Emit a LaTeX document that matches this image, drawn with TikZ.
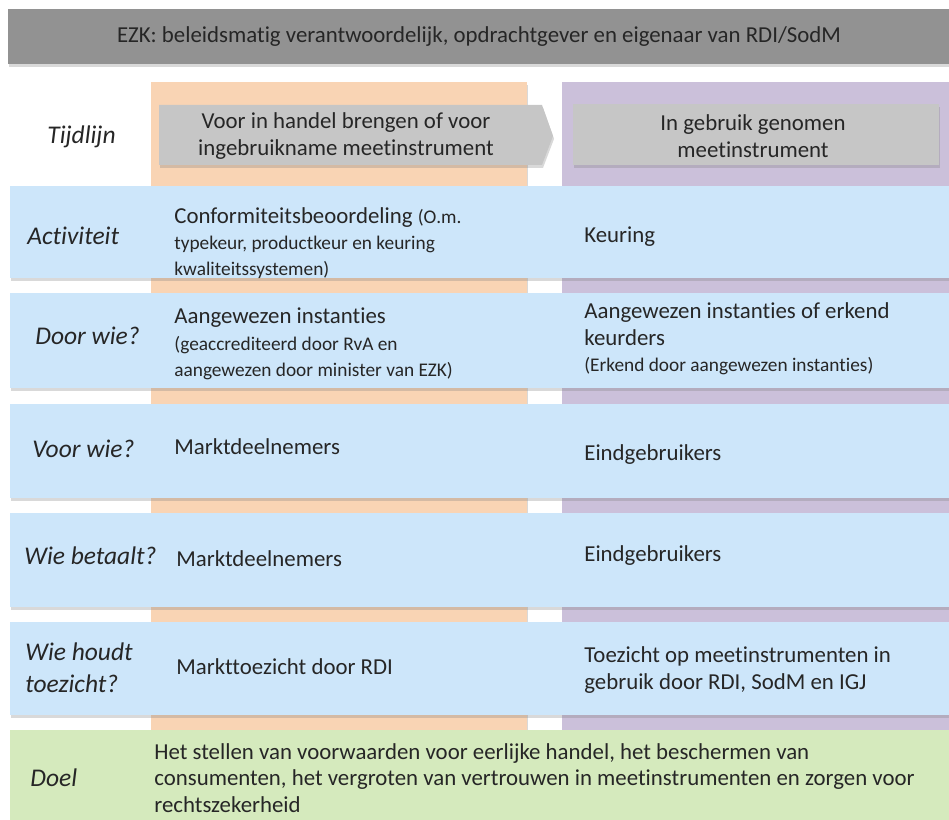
\documentclass[tikz,border=0pt]{standalone}
\usepackage{fontspec}
\setmainfont{Carlito}[Ligatures=NoCommon]
\usetikzlibrary{shadows}
\definecolor{ezkgray}{HTML}{929292}
\definecolor{peach}{HTML}{F9D4B4}
\definecolor{lilac}{HTML}{CBC0DA}
\definecolor{boxgray}{HTML}{C6C6C6}
\definecolor{rowblue}{HTML}{CDE6FA}
\definecolor{rowgreen}{HTML}{D5EABD}
\definecolor{txtgray}{HTML}{262626}
\newcommand{\smalltxt}{\fontsize{11}{15}\selectfont}
\begin{document}
\begin{tikzpicture}[x=0.02cm, y=-0.02cm,
    every node/.style={text=txtgray, inner sep=0pt},
    shade/.style={drop shadow={shadow xshift=0.6pt, shadow yshift=-1.6pt, opacity=0.3}},
    lbl/.style={anchor=west, font=\fontsize{14.5}{18}\selectfont\itshape},
    txt/.style={anchor=west, align=left, font=\fontsize{13}{15}\selectfont},
    ctr/.style={align=center, font=\fontsize{13}{15}\selectfont}]
  \useasboundingbox (0,0) rectangle (949,820);
  % background
  \fill[ezkgray, shade] (8,9) rectangle (949,64);
  \fill[peach, shade] (151,82) rectangle (527,735);
  \fill[lilac, shade] (562,82) rectangle (949,735);
  \fill[boxgray, shade] (159,105) -- (542,105) -- (553,136) -- (542,165) -- (159,165) -- cycle;
  \fill[boxgray, shade] (573,104) rectangle (939,165);
  \foreach \ya/\yb in {186/278, 293/388, 404/498, 513/607, 622/715}
    \fill[rowblue, shade] (10,\ya) rectangle (949,\yb);
  \fill[rowgreen] (10,730) rectangle (949,820);
  % texts
  \node[ctr] (ezk) at (479,37) {EZK: beleidsmatig verantwoordelijk, opdrachtgever en eigenaar van RDI/SodM};
  \node[lbl] (tijd) at (47,137) {Tijdlijn};
  \node[ctr] (voor) at (346,136) {Voor in handel brengen of voor\\ingebruikname meetinstrument};
  \node[ctr] (gebr) at (753,136) {In gebruik genomen\\meetinstrument};

  \node[lbl] (act) at (27,236) {Activiteit};
  \node[txt] (act1) at (174,243) {Conformiteitsbeoordeling {\smalltxt(O.m.}\\
    {\smalltxt typekeur, productkeur en keuring}\\
    {\smalltxt kwaliteitssystemen)}};
  \node[txt] (act2) at (584,237) {Keuring};

  \node[lbl] (door) at (35,336) {Door wie?};
  \node[txt] (door1) at (174,344) {Aangewezen instanties\\
    {\smalltxt(geaccrediteerd door RvA en}\\
    {\smalltxt aangewezen door minister van EZK)}};
  \node[txt] (door2) at (584,339) {Aangewezen instanties of erkend\\keurders\\
    {\smalltxt(Erkend door aangewezen instanties)}};

  \node[lbl] (voorwie) at (32,449) {Voor wie?};
  \node[txt] (voorwie1) at (174,447) {Marktdeelnemers};
  \node[txt] (voorwie2) at (584,455) {Eindgebruikers};

  \node[lbl] (betaalt) at (24,556) {Wie betaalt?};
  \node[txt] (betaalt1) at (176,559) {Marktdeelnemers};
  \node[txt] (betaalt2) at (584,556) {Eindgebruikers};

  \node[lbl, align=left] (houdt) at (25,668) {Wie houdt\\toezicht?};
  \node[txt] (houdt1) at (176,667) {Markttoezicht door RDI};
  \node[txt] (houdt2) at (584,670) {Toezicht op meetinstrumenten in\\gebruik door RDI, SodM en IGJ};

  \node[lbl] (doel) at (30,778) {Doel};
  \node[txt] (doel1) at (154,778) {Het stellen van voorwaarden voor eerlijke handel, het beschermen van\\
    consumenten, het vergroten van vertrouwen in meetinstrumenten en zorgen voor\\rechtszekerheid};
\end{tikzpicture}
\end{document}
